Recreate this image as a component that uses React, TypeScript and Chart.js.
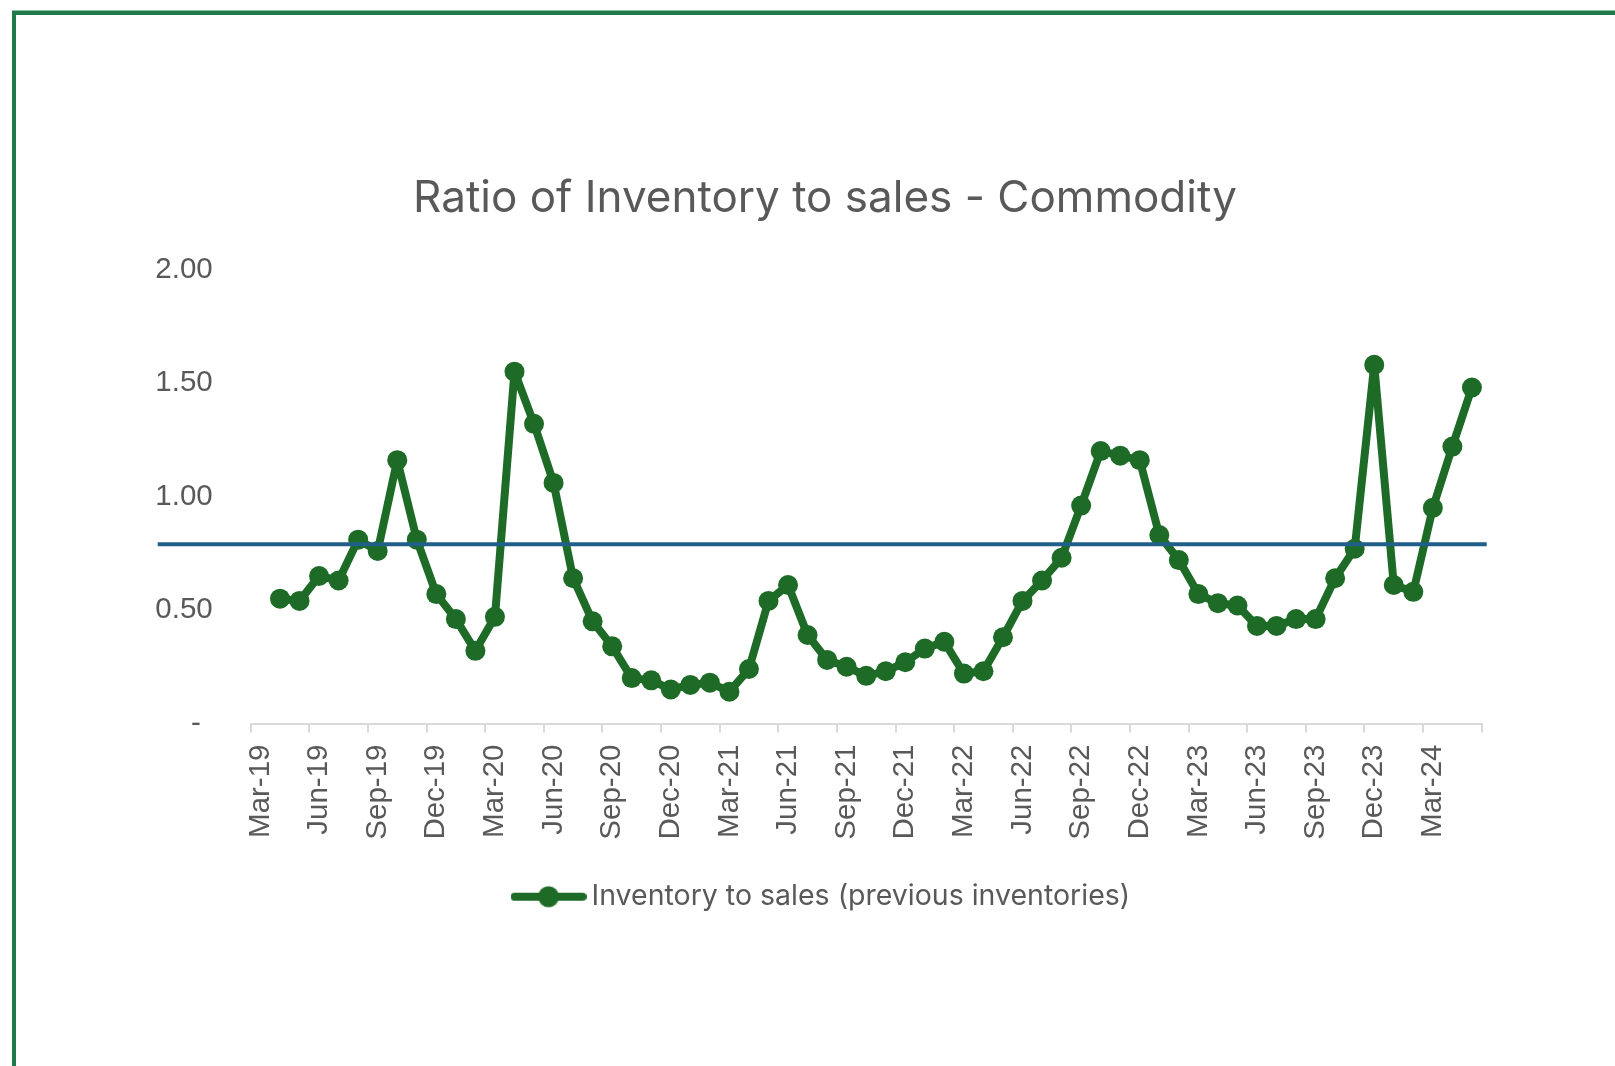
import React, { useEffect, useRef } from 'react';
import { Chart, registerables } from 'chart.js';

Chart.register(...registerables);

const TITLE = 'Ratio of Inventory to sales - Commodity';
const SERIES_LABEL = 'Inventory to sales (previous inventories)';

const MONTHS = [
  'Mar-19', 'Apr-19', 'May-19', 'Jun-19', 'Jul-19', 'Aug-19', 'Sep-19', 'Oct-19', 'Nov-19', 'Dec-19',
  'Jan-20', 'Feb-20', 'Mar-20', 'Apr-20', 'May-20', 'Jun-20', 'Jul-20', 'Aug-20', 'Sep-20', 'Oct-20', 'Nov-20', 'Dec-20',
  'Jan-21', 'Feb-21', 'Mar-21', 'Apr-21', 'May-21', 'Jun-21', 'Jul-21', 'Aug-21', 'Sep-21', 'Oct-21', 'Nov-21', 'Dec-21',
  'Jan-22', 'Feb-22', 'Mar-22', 'Apr-22', 'May-22', 'Jun-22', 'Jul-22', 'Aug-22', 'Sep-22', 'Oct-22', 'Nov-22', 'Dec-22',
  'Jan-23', 'Feb-23', 'Mar-23', 'Apr-23', 'May-23', 'Jun-23', 'Jul-23', 'Aug-23', 'Sep-23', 'Oct-23', 'Nov-23', 'Dec-23',
  'Jan-24', 'Feb-24', 'Mar-24', 'Apr-24', 'May-24',
];

const RATIO: (number | null)[] = [
  null, 0.55, 0.54, 0.65, 0.63, 0.81, 0.76, 1.16, 0.81, 0.57,
  0.46, 0.32, 0.47, 1.55, 1.32, 1.06, 0.64, 0.45, 0.34, 0.20, 0.19, 0.15,
  0.17, 0.18, 0.14, 0.24, 0.54, 0.61, 0.39, 0.28, 0.25, 0.21, 0.23, 0.27,
  0.33, 0.36, 0.22, 0.23, 0.38, 0.54, 0.63, 0.73, 0.96, 1.20, 1.18, 1.16,
  0.83, 0.72, 0.57, 0.53, 0.52, 0.43, 0.43, 0.46, 0.46, 0.64, 0.77, 1.58,
  0.61, 0.58, 0.95, 1.22, 1.48,
];

const REFERENCE_VALUE = 0.79;

const Y_TICKS = [0, 0.5, 1, 1.5, 2];
const Y_TICK_LABELS = ['-\u2009\u2009', '0.50', '1.00', '1.50', '2.00'];

const LABEL_EVERY = 3;

const GREEN = '#1d6b27';
const BLUE = '#1f5f8a';
const FRAME = '#217a4d';
const TEXT = '#595959';
const AXIS_GREY = '#d9d9d9';

export default function App() {
  const ref = useRef<HTMLCanvasElement | null>(null);

  useEffect(() => {
    document.body.style.margin = '0';
    const canvas = ref.current;
    if (!canvas) return;

    const marker = document.createElement('canvas');
    marker.width = 76;
    marker.height = 24;
    const mctx = marker.getContext('2d')!;
    mctx.strokeStyle = GREEN;
    mctx.lineWidth = 8;
    mctx.lineCap = 'round';
    mctx.beginPath();
    mctx.moveTo(4, 12);
    mctx.lineTo(72, 12);
    mctx.stroke();
    mctx.fillStyle = GREEN;
    mctx.beginPath();
    mctx.arc(38, 12, 10.5, 0, Math.PI * 2);
    mctx.fill();

    const framePlugin = {
      id: 'frame',
      beforeDraw(chart: any) {
        const c = chart.ctx;
        c.save();
        c.fillStyle = '#ffffff';
        c.fillRect(0, 0, chart.width, chart.height);
        c.fillStyle = '#8fbfa5';
        c.fillRect(12, 10, chart.width, 1);
        c.fillStyle = FRAME;
        c.fillRect(12, 11, chart.width, 4);
        c.fillRect(12, 11, 4, chart.height);
        c.restore();
      },
    };

    // let the y tick labels spill into the left padding instead of being clipped
    const unclipPlugin = {
      id: 'unclipY',
      afterLayout(chart: any) {
        chart.scales.y.left = 0;
      },
    };

    const refLinePlugin = {
      id: 'refLine',
      afterDatasetsDraw(chart: any) {
        const y = chart.scales.y.getPixelForValue(REFERENCE_VALUE);
        const { left, right } = chart.chartArea;
        const c = chart.ctx;
        c.save();
        c.strokeStyle = BLUE;
        c.lineWidth = 4;
        c.beginPath();
        c.moveTo(left - 93, y);
        c.lineTo(right + 5, y);
        c.stroke();
        c.restore();
      },
    };

    const chart = new Chart(canvas, {
      type: 'line',
      data: {
        labels: MONTHS,
        datasets: [
          {
            label: SERIES_LABEL,
            data: RATIO,
            borderColor: GREEN,
            backgroundColor: GREEN,
            borderWidth: 8,
            borderJoinStyle: 'round',
            borderCapStyle: 'round',
            pointRadius: 10,
            pointBackgroundColor: GREEN,
            pointBorderColor: GREEN,
            pointBorderWidth: 0,
            tension: 0,
            fill: false,
          },
        ],
      },
      options: {
        responsive: false,
        animation: false,
        layout: { padding: { top: 0, left: 168.3, right: 133.3, bottom: 145 } },
        plugins: {
          tooltip: { enabled: false },
          title: {
            display: true,
            text: TITLE,
            color: TEXT,
            font: { family: 'Inter', size: 44, weight: 'normal', lineHeight: 1.2 },
            padding: { top: 172.6, bottom: 44.1 },
          },
          legend: {
            display: true,
            position: 'bottom',
            labels: {
              color: TEXT,
              font: { family: 'Inter', size: 28.5 },
              padding: 10,
              usePointStyle: true,
              pointStyleWidth: 57.5,
              generateLabels: () => [
                {
                  text: SERIES_LABEL,
                  fillStyle: GREEN,
                  strokeStyle: GREEN,
                  lineWidth: 0,
                  pointStyle: marker as any,
                  hidden: false,
                  datasetIndex: 0,
                  fontColor: TEXT,
                },
              ],
            },
          },
        },
        scales: {
          x: {
            type: 'category',
            offset: true,
            grid: {
              offset: true,
              drawOnChartArea: false,
              drawTicks: true,
              tickLength: 9,
              lineWidth: 2,
              color: (ctx: any) =>
                ctx.type !== 'tick' || ctx.index % LABEL_EVERY === 0 ? AXIS_GREY : 'rgba(0,0,0,0)',
            },
            border: { display: true, color: AXIS_GREY, width: 2 },
            ticks: {
              autoSkip: false,
              minRotation: 90,
              maxRotation: 90,
              padding: 12,
              color: TEXT,
              font: { family: 'Liberation Sans', size: 29.5 },
              callback: function (this: any, value: any, index: number) {
                return index % LABEL_EVERY === 0 ? this.getLabelForValue(value) : '';
              },
            },
            afterFit: (s: any) => {
              s.height = 149;
            },
          },
          y: {
            min: 0,
            max: 2,
            afterBuildTicks: (s: any) => {
              s.ticks = Y_TICKS.map((v) => ({ value: v }));
            },
            grid: { display: false, drawTicks: false },
            border: { display: false },
            ticks: {
              padding: 38,
              color: TEXT,
              font: { family: 'Liberation Sans', size: 29.5 },
              callback: (_v: any, i: number) => Y_TICK_LABELS[i],
            },
            afterFit: (s: any) => {
              s.width = 82.4;
            },
          },
        },
      },
      plugins: [framePlugin, unclipPlugin, refLinePlugin],
    });

    return () => chart.destroy();
  }, []);

  return (
    <div style={{ width: 1615, height: 1066, overflow: 'hidden' }}>
      <canvas ref={ref} width={1615} height={1066} style={{ display: 'block', width: 1615, height: 1066 }} />
    </div>
  );
}
